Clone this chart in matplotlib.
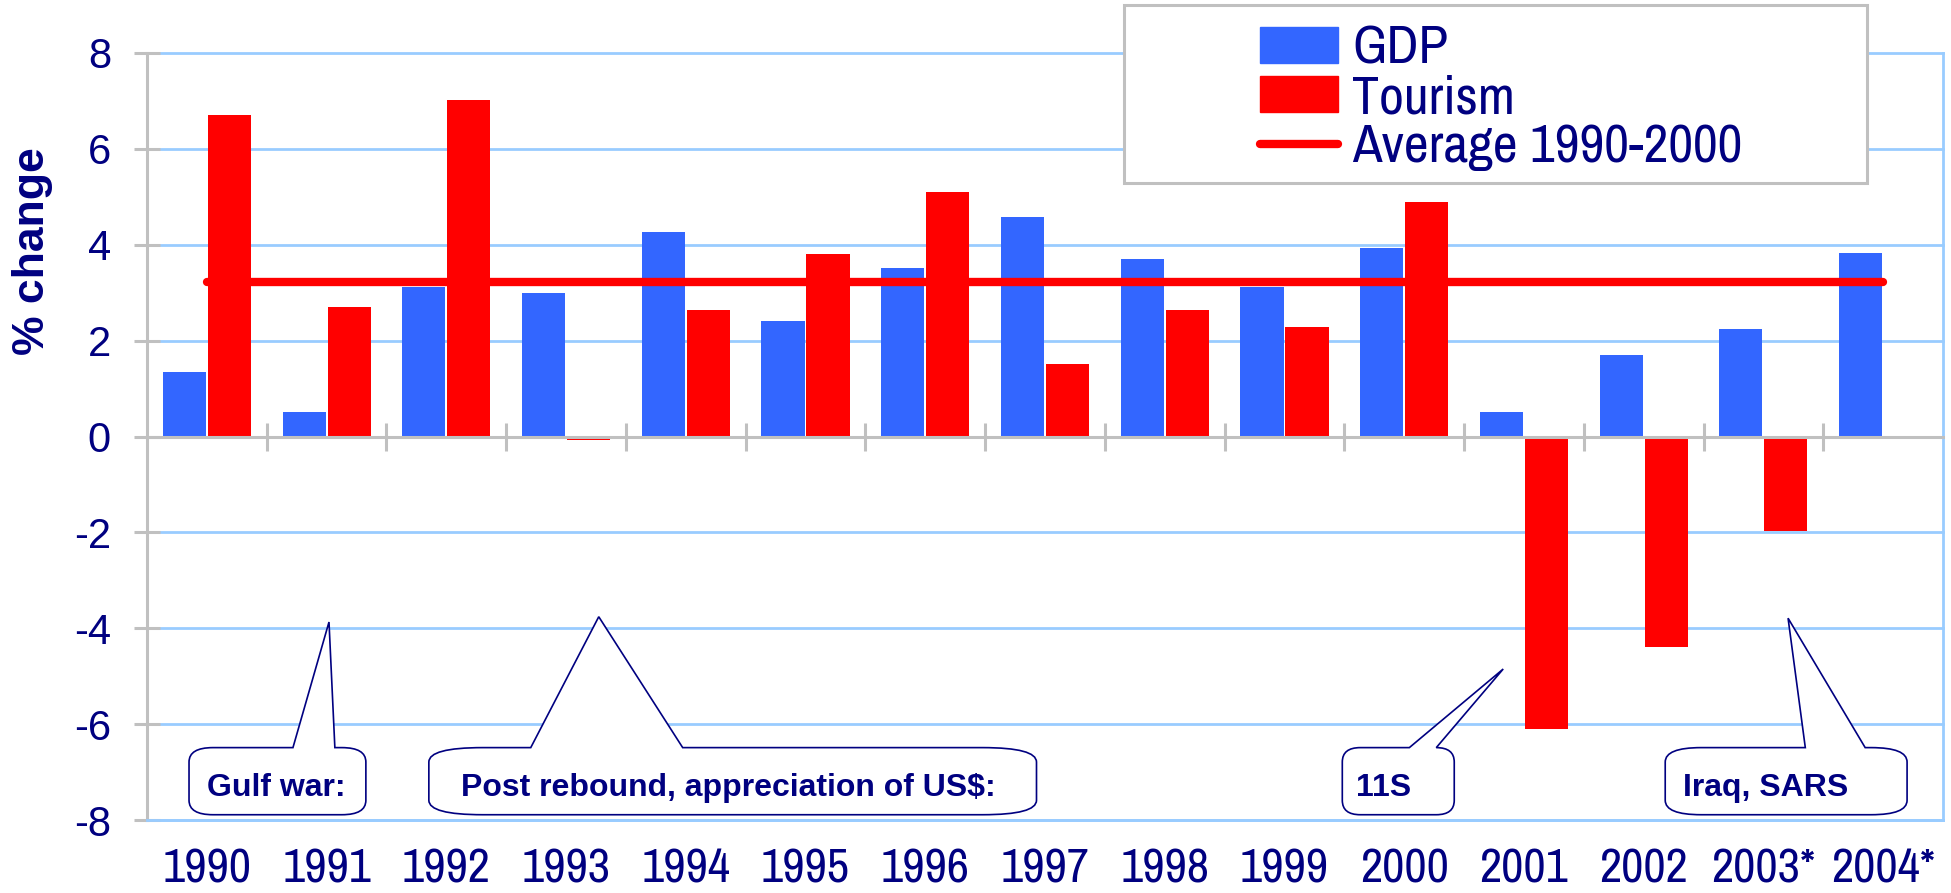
import numpy as np
import matplotlib
matplotlib.use('Agg')
import matplotlib.pyplot as plt
from matplotlib import font_manager
from matplotlib.patches import Rectangle, PathPatch
from matplotlib.path import Path
from matplotlib.lines import Line2D

# Data (% change per year)
years = ['1990', '1991', '1992', '1993', '1994', '1995', '1996', '1997',
         '1998', '1999', '2000', '2001', '2002', '2003*', '2004*']
gdp = [1.35, 0.51, 3.12, 2.99, 4.27, 2.40, 3.52, 4.58,
       3.70, 3.12, 3.93, 0.51, 1.70, 2.24, 3.83]
tourism = [6.70, 2.70, 7.01, -0.08, 2.63, 3.81, 5.10, 1.52,
           2.64, 2.28, 4.89, -6.10, -4.39, -1.97, np.nan]
avg_1990_2000 = 3.22

series_labels = ['GDP', 'Tourism', 'Average 1990-2000']

# Callout boxes: text, box left/right, pointer base left/right, tip (x, y), corner radius x, text x
callouts = [
    ('Gulf war:', -0.149, 1.328, 0.719, 1.069, (1.02, -3.87), 0.2, 0.0),
    ('Post rebound, appreciation of US$:', 1.854, 6.929, 2.705, 3.974, (3.273, -3.76), 0.45, 2.12),
    ('11S', 9.483, 10.418, 10.043, 10.268, (10.827, -4.85), 0.15, 9.60),
    ('Iraq, SARS', 12.18, 14.2, 13.35, 13.85, (13.206, -3.79), 0.3, 12.33),
]
box_top, box_bottom, text_base = -6.49, -7.89, -7.50

NAVY = '#000080'
BLUE = '#3366FF'
RED = '#FF0000'
GRID = '#99CCFF'
AXIS = '#C0C0C0'

names = {f.name for f in font_manager.fontManager.ttflist}
narrow = 'Archivo Narrow' if 'Archivo Narrow' in names else 'Liberation Sans'
plt.rcParams['font.family'] = ['Liberation Sans', 'DejaVu Sans']
plt.rcParams['axes.unicode_minus'] = False

fig = plt.figure(figsize=(19.51, 8.93), dpi=100)
ax = fig.add_axes([147 / 1951, 1 - 820 / 893, 1796 / 1951, 767 / 893])

x = np.arange(len(years))
w = 0.36
ax.bar(x - 0.188, gdp, w, color=BLUE, zorder=2)
ax.bar(x + 0.188, tourism, w, color=RED, zorder=2)
ax.plot([x[0], x[-1]], [avg_1990_2000, avg_1990_2000], color=RED, lw=6,
        solid_capstyle='round', zorder=3)

ax.set_xlim(-0.5, len(years) - 0.5)
ax.set_ylim(-8, 8)

# spines: zero line in grey, outer frame light blue
ax.spines['top'].set_position(('data', 0))
ax.spines['top'].set_color(AXIS)
ax.spines['top'].set_linewidth(2.2)
ax.spines['top'].set_zorder(2.5)
ax.spines['left'].set_color(AXIS)
ax.spines['left'].set_linewidth(2.2)
ax.spines['right'].set_color(GRID)
ax.spines['right'].set_linewidth(2)
ax.spines['bottom'].set_color(GRID)
ax.spines['bottom'].set_linewidth(2)

ax.set_xticks(x, years)
ax.set_xticks(x[:-1] + 0.5, minor=True)
ax.tick_params(axis='x', which='major', length=0, pad=20, labelsize=35,
               labelcolor=NAVY, top=False)
ax.tick_params(axis='x', which='minor', top=True, bottom=False, direction='inout',
               length=20, width=2.2, color=AXIS)
for lbl in ax.get_xticklabels():
    lbl.set_fontfamily(narrow)

ax.set_yticks(np.arange(-8, 9, 2))
ax.tick_params(axis='y', direction='inout', length=19, width=2.2, color=AXIS,
               pad=16.5, labelsize=30, labelcolor=NAVY)

ax.yaxis.grid(True, color=GRID, lw=2, clip_on=False)
ax.set_axisbelow(True)

ax.set_ylabel('% change', fontsize=32, fontweight='bold', color=NAVY)
ax.yaxis.set_label_coords(-0.0523, 0.742)

# callouts
for text, x0, x1, b0, b1, tip, rx, tx in callouts:
    ry = 0.3
    verts = [(x0 + rx, box_top), (b0, box_top), tip, (b1, box_top), (x1 - rx, box_top),
             (x1, box_top), (x1, box_top - ry), (x1, box_bottom + ry),
             (x1, box_bottom), (x1 - rx, box_bottom), (x0 + rx, box_bottom),
             (x0, box_bottom), (x0, box_bottom + ry), (x0, box_top - ry),
             (x0, box_top), (x0 + rx, box_top), (x0 + rx, box_top)]
    codes = [Path.MOVETO, Path.LINETO, Path.LINETO, Path.LINETO, Path.LINETO,
             Path.CURVE3, Path.CURVE3, Path.LINETO,
             Path.CURVE3, Path.CURVE3, Path.LINETO,
             Path.CURVE3, Path.CURVE3, Path.LINETO,
             Path.CURVE3, Path.CURVE3, Path.CLOSEPOLY]
    ax.add_patch(PathPatch(Path(verts, codes), facecolor='white', edgecolor=NAVY,
                           lw=1.2, zorder=4))
    ax.text(tx, text_base, text, fontsize=23, fontweight='bold', color=NAVY,
            ha='left', va='baseline', zorder=5)

# legend with its own frame
frame = Rectangle((1124 / 1951, 1 - 183 / 893), 743 / 1951, 178 / 893,
                  transform=fig.transFigure, facecolor='white', edgecolor=AXIS,
                  lw=2.2, zorder=4)
fig.add_artist(frame)
handles = [Rectangle((0, 0), 1, 1, color=BLUE), Rectangle((0, 0), 1, 1, color=RED),
           Line2D([], [], color=RED, lw=6, solid_capstyle='round')]
fig.legend(handles, series_labels, loc='upper left',
           bbox_to_anchor=(1260 / 1951, 1 - 25 / 893), frameon=False,
           borderpad=0, borderaxespad=0, handlelength=1.44, handleheight=0.65,
           handletextpad=0.26, labelspacing=0.02,
           prop={'family': narrow, 'size': 39}, labelcolor=NAVY)

fig.savefig('out.png', dpi=100)
